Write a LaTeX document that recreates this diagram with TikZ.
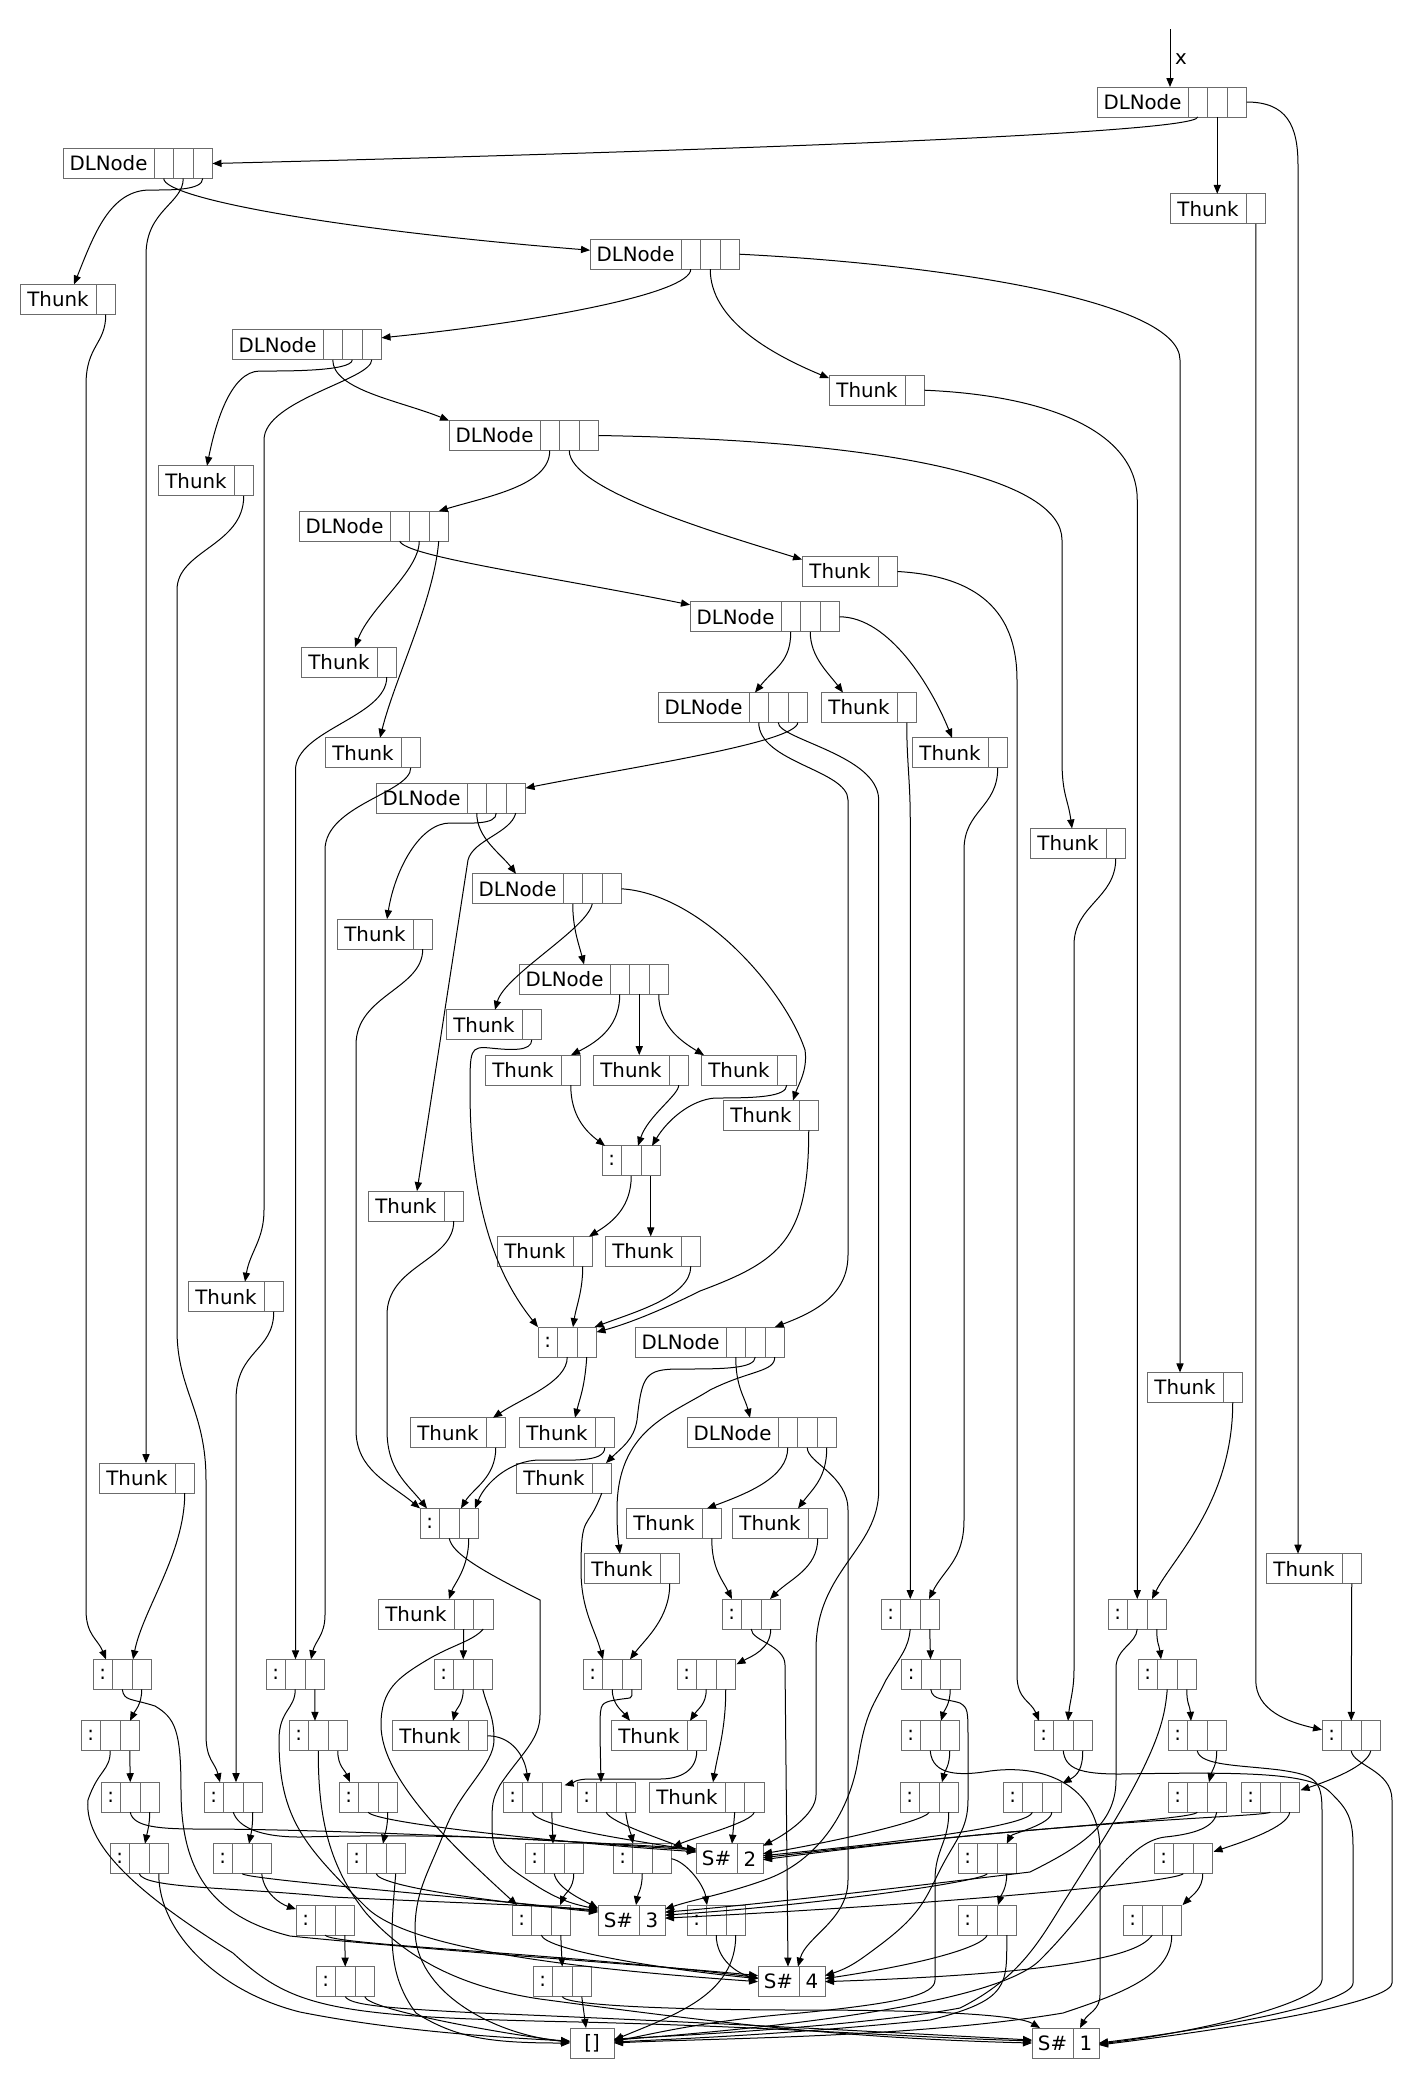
\documentclass[tikz,border=0pt]{standalone}
\usepackage{fontspec}
\newfontfamily\dvs{DejaVu Sans}
\usetikzlibrary{calc,arrows.meta}
\tikzset{
  box/.style={draw=black!58, line width=0.5pt, inner sep=0pt, outer sep=0pt, minimum height=15pt, font=\dvs\fontsize{9.9}{11}\selectfont, text=black},
  lab/.style={box, anchor=north west},
  cell/.style={box, anchor=west, minimum width=9.75pt},
  e/.style={draw=black, line width=0.5pt, -{Triangle[length=4.5pt,width=3.6pt]}},
}
\newcommand\mkrec[5]{\node[lab, minimum width=#5] (#1) at (#2,#3) {#4};}
\newcommand\mkcells[2]{%
  \node[cell] (#1-1) at (#1.east) {};%
  \ifnum#2>1 \node[cell] (#1-2) at (#1-1.east) {};\fi
  \ifnum#2>2 \node[cell] (#1-3) at (#1-2.east) {};\fi}
\newcommand\dlrec[3]{\mkrec{#1}{#2}{#3}{DLNode}{45.5pt}\mkcells{#1}{3}}
\newcommand\threc[3]{\mkrec{#1}{#2}{#3}{Thunk}{38pt}\mkcells{#1}{1}}
\newcommand\threcb[3]{\mkrec{#1}{#2}{#3}{Thunk}{38pt}\mkcells{#1}{2}}
\newcommand\consrec[3]{\mkrec{#1}{#2}{#3}{:}{9.75pt}\mkcells{#1}{2}}
\newcommand\shrec[4]{\mkrec{#1}{#2}{#3}{S\#}{20.5pt}\node[cell, minimum width=13pt] (#1-1) at (#1.east) {#4};}
\begin{document}
\begin{tikzpicture}[x=0.5pt,y=-0.5pt]
\fill[white] (0,0) rectangle (1413,2090);
\useasboundingbox (0,0) rectangle (1413,2090);
% ---------- nodes ----------
\dlrec{DL0}{1097}{87}
\dlrec{DL1}{63}{148.5}
\threc{TA}{1170}{193.8}
\dlrec{DL2}{590}{239.2}
\threc{TB}{20}{284.5}
\dlrec{DL3}{232}{329.8}
\threc{TC}{829}{375.2}
\dlrec{DL4}{449}{420.5}
\threc{TD}{158}{465.8}
\dlrec{DL5}{299}{511.1}
\threc{TE}{802}{556.5}
\dlrec{DL6}{690}{601.8}
\threc{TF}{301}{647.1}
\dlrec{DL7}{658}{692.5}
\threc{TG}{821}{692.5}
\threc{TH}{325}{737.8}
\threc{TI}{912}{737.8}
\dlrec{DL8}{376}{783.1}
\threc{TJ}{1030}{828.5}
\dlrec{DL9}{472}{873.8}
\threc{TK}{337}{919.1}
\dlrec{DL10}{519}{964.4}
\threc{TL}{446}{1009.8}
\threc{TM}{485}{1055.1}
\threc{TN}{593}{1055.1}
\threc{TO}{701}{1055.1}
\threc{TP}{723}{1100.4}
\consrec{C1}{602}{1145.8}
\threc{TQ}{368}{1191.1}
\threc{TR}{497}{1236.4}
\threc{TS}{605}{1236.4}
\threc{TT}{188}{1281.7}
\consrec{C2}{538}{1327.1}
\dlrec{DL11}{635}{1327.1}
\threc{TU}{1147}{1372.4}
\threc{TV}{410}{1417.7}
\threc{TW}{519}{1417.7}
\dlrec{DL12}{687}{1417.7}
\threc{TX}{99}{1463.1}
\threc{TY}{516}{1463.1}
\consrec{C3}{420}{1508.4}
\threc{TZ}{626}{1508.4}
\threc{TAA}{732}{1508.4}
\threc{TAB}{584}{1553.7}
\threc{TAC}{1266}{1553.7}
\threcb{TAD}{378}{1599}
\consrec{C4}{722}{1599}
\consrec{C5}{881}{1599}
\consrec{C6}{1108}{1599}
% bottom rows
\consrec{K1}{93}{1659.3}
\consrec{K2}{266}{1659.3}
\consrec{K3}{434}{1659.3}
\consrec{K4}{583}{1659.3}
\consrec{K5}{677}{1659.3}
\consrec{K8}{901.5}{1659.3}
\consrec{K9}{1138}{1659.3}
\consrec{K6}{81}{1720.8}
\consrec{K7}{289}{1720.8}
\threc{TAE}{392}{1720.8}
\threc{TAF}{611}{1720.8}
\consrec{K10}{901}{1720.8}
\consrec{K11}{1034}{1720.8}
\consrec{K12}{1168}{1720.8}
\consrec{K13}{1322}{1720.8}
\consrec{K14}{101}{1782.2}
\consrec{K15}{204}{1782.2}
\consrec{K16}{339}{1782.2}
\consrec{K17}{503}{1782.2}
\consrec{K18}{577}{1782.2}
\threcb{TAG}{649}{1782.2}
\consrec{K29}{900}{1782.2}
\consrec{K30}{1003}{1782.2}
\consrec{K31}{1168}{1782.2}
\consrec{K32}{1241}{1782.2}
\consrec{K19}{110}{1843.7}
\consrec{K20}{213}{1843.7}
\consrec{K21}{347}{1843.7}
\consrec{K22}{525}{1843.7}
\consrec{K23}{613}{1843.7}
\shrec{S2}{696}{1843.7}{2}
\consrec{K33}{958}{1843.7}
\consrec{K34}{1154}{1843.7}
\consrec{K24}{296}{1905.1}
\consrec{K25}{512}{1905.1}
\shrec{S3}{598}{1905.1}{3}
\consrec{K26}{687}{1905.1}
\consrec{K35}{958}{1905.1}
\consrec{K36}{1123}{1905.1}
\consrec{K27}{316}{1966.6}
\consrec{K28}{533}{1966.6}
\shrec{S4}{758}{1966.6}{4}
\mkrec{Nil}{570}{2028}{[]}{22pt}
\shrec{S1}{1032}{2028}{1}
% ---------- edges ----------
\coordinate (xs) at (1170,29);
\node[font=\dvs\fontsize{9.9}{11}\selectfont] (xl) at (1181,59) {x};
\draw[e] (xs) -- ($(DL0.north west)+(73,0)$);
\draw[e] (DL0-1.south) .. controls +(0,18) and +(400,-10) .. (DL1-3.east);
\draw[e] (DL0-2.south) -- ($(TA.north west)+(47.25,0)$);
\draw[e] (DL0-3.east) .. controls +(40,0) and +(0,-40) .. (1298,165) -- ($(TAC.north west)+(32,0)$);
\draw[e] (TA-1.south) -- (1255.75,1680) .. controls +(0,30) and +(-35,-8) .. ($(K13.north west)+(0,9)$);
\draw[e] (TAC-1.south) -- (K13-1.north);
\draw[e] (DL1-1.south) .. controls +(0,20) and +(-250,-20) .. ($(DL2.north west)+(0,11)$);
\draw[e] (DL1-2.south) .. controls +(0,25) and +(0,-45) .. (146,255) -- ($(TX.north west)+(47,0)$);
\draw[e] (DL1-3.south) .. controls +(0,12) and +(20,0) .. (150,190) .. controls +(-40,0) and +(20,-50) .. ($(TB.north west)+(54,0)$);
\draw[e] (TB-1.south) .. controls +(0,30) and +(0,-40) .. (86,385) -- (86,1610) .. controls +(0,25) and +(-8,-20) .. ($(K1.north west)+(13,0)$);
\draw[e] (TX-1.south) .. controls +(0,60) and +(10,-50) .. ($(K1.north west)+(40,0)$);
\draw[e] (DL2-1.south) .. controls +(0,25) and +(150,-15) .. ($(DL3-3.north east)+(0,8)$);
\draw[e] (DL2-2.south) .. controls +(0,50) and +(-60,-25) .. ($(TC.north west)+(0,3)$);
\draw[e] (DL2-3.east) .. controls +(200,10) and +(0,-60) .. (1180,360) -- ($(TU.north west)+(33,0)$);
\draw[e] (TC-1.east) .. controls +(120,5) and +(0,-70) .. (1137.25,500) -- (C6-1.north);
\draw[e] (TU-1.south) .. controls +(0,100) and +(20,-40) .. ($(C6.north west)+(44,0)$);
\draw[e] (DL3-1.south) .. controls +(0,30) and +(-50,-20) .. (DL4.north west);
\draw[e] (DL3-2.south) .. controls +(0,12) and +(20,0) .. (260,371) .. controls +(-30,0) and +(8,-40) .. ($(TD.north west)+(49,0)$);
\draw[e] (DL3-3.south) .. controls +(0,20) and +(0,-40) .. (264,440) -- (264,1210) .. controls +(0,30) and +(5,-30) .. ($(TT.north west)+(57,0)$);
\draw[e] (TD-1.south) .. controls +(0,50) and +(0,-40) .. (177,590) -- (177,1330) .. controls +(0,60) and +(0,-70) .. (206,1480) -- (206,1735) .. controls +(0,25) and +(-5,-20) .. ($(K15.north west)+(16,0)$);
\draw[e] (TT-1.south) .. controls +(0,40) and +(0,-50) .. (236,1400) -- ($(K15.north west)+(32,0)$);
\draw[e] (DL4-1.south) .. controls +(0,35) and +(50,-15) .. (DL5-3.north);
\draw[e] (DL4-2.south) .. controls +(0,40) and +(-80,-25) .. ($(TE.north west)+(0,3)$);
\draw[e] (DL4-3.east) .. controls +(300,5) and +(0,-60) .. (1062,540) -- (1062,760) .. controls +(0,35) and +(-4,-30) .. ($(TJ.north west)+(42,0)$);
\draw[e] (TE-1.east) .. controls +(90,5) and +(0,-60) .. (1017,680) -- (1017,1675) .. controls +(0,25) and +(-8,-20) .. ($(K11.north west)+(5,0)$);
\draw[e] (TJ-1.south) .. controls +(0,40) and +(0,-40) .. (1074,945) -- (1074,1670) .. controls +(0,20) and +(2,-20) .. ($(K11.north west)+(34,0)$);
\draw[e] (DL5-1.south) .. controls +(5,15) and +(-150,-30) .. ($(DL6.north west)+(0,3)$);
\draw[e] (DL5-2.south) .. controls +(0,30) and +(15,-40) .. ($(TF.north west)+(54,0)$);
\draw[e] (DL5-3.south) .. controls +(-5,60) and +(15,-60) .. ($(TH.north west)+(55,0)$);
\draw[e] (TF-1.south) .. controls +(0,40) and +(0,-40) .. (295.5,770) -- ($(K2.north west)+(29.5,0)$);
\draw[e] (TH-1.south) .. controls +(0,25) and +(0,-45) .. (325,850) -- (325,1615) .. controls +(0,20) and +(4,-18) .. ($(K2.north west)+(45,0)$);
\draw[e] (DL6-1.south) .. controls +(0,30) and +(20,-25) .. ($(DL7.north west)+(97,0)$);
\draw[e] (DL6-2.south) .. controls +(0,25) and +(-15,-20) .. ($(TG.north west)+(22,0)$);
\draw[e] (DL6-3.east) .. controls +(50,0) and +(-20,-50) .. ($(TI.north west)+(40,0)$);
\draw[e] (TG-1.south) .. controls +(0,40) and +(0,-40) .. (910.25,820) -- (C5-1.north);
\draw[e] (TI-1.south) .. controls +(0,40) and +(0,-40) .. (964,850) -- (964,1520) .. controls +(0,40) and +(15,-30) .. ($(C5.north west)+(48,0)$);
\draw[e] (DL7-1.south) .. controls +(0,40) and +(0,-30) .. (848,800) -- (848,1255) .. controls +(0,40) and +(40,-15) .. (DL11-3.north);
\draw[e] (DL7-2.south) .. controls +(0,17) and +(0,-45) .. (878.7,800) -- (878.7,1490) .. controls +(0,60) and +(0,-80) .. (816,1650) -- (816,1795) .. controls +(0,20) and +(20,-10) .. ($(S2-1.north east)+(0,2)$);
\draw[e] (DL7-3.south) .. controls +(0,20) and +(100,-20) .. ($(DL8-3.north east)+(0,5)$);
\draw[e] (DL8-1.south) .. controls +(0,25) and +(-15,-20) .. ($(DL9.north west)+(44,0)$);
\draw[e] (DL8-2.south) .. controls +(0,12) and +(20,0) .. (450,823) .. controls +(-30,0) and +(8,-50) .. ($(TK.north west)+(50,0)$);
\draw[e] (DL8-3.south) .. controls +(-5,20) and +(5,-20) .. (468,860) -- ($(TQ.north west)+(49,0)$);
\draw[e] (DL9-1.south) .. controls +(0,25) and +(-5,-20) .. ($(DL10.north west)+(65,0)$);
\draw[e] (DL9-2.south) .. controls +(-5,25) and +(10,-35) .. ($(TL.north west)+(49,0)$);
\draw[e] (DL9-3.east) .. controls +(80,5) and +(-20,-60) .. (805,1050) .. controls +(3,20) and +(5,-15) .. ($(TP.north west)+(70,0)$);
\draw[e] (DL10-1.south) .. controls +(0,30) and +(30,-15) .. ($(TM.north west)+(86,0)$);
\draw[e] (DL10-2.south) -- ($(TN.north west)+(46.25,0)$);
\draw[e] (DL10-3.south) .. controls +(0,30) and +(-25,-15) .. ($(TO.north west)+(3,0)$);
\draw[e] (TL-1.south) .. controls +(0,12) and +(20,2) .. (490,1048) .. controls +(-20,-2) and +(0,-40) .. (470,1090) .. controls +(0,120) and +(-40,-50) .. (C2.north west);
\draw[e] (TM-1.south) .. controls +(0,30) and +(-20,-15) .. ($(C1.north west)+(3,0)$);
\draw[e] (TN-1.south) .. controls +(0,10) and +(10,-30) .. ($(C1.north west)+(36,0)$);
\draw[e] (TO-1.south) .. controls +(0,12) and +(40,0) .. (715,1098) .. controls +(-25,2) and +(15,-25) .. ($(C1.north west)+(50,0)$);
\draw[e] (TP-1.south) .. controls +(0,110) and +(80,-30) .. (700,1291) .. controls +(-40,20) and +(30,-8) .. ($(C2-2.north east)+(0,5)$);
\draw[e] (TS-1.south) .. controls +(0,30) and +(40,-15) .. ($(C2-2.north east)+(-2,0)$);
\draw[e] (C1-1.south) .. controls +(0,30) and +(25,-15) .. ($(TR.north west)+(92,0)$);
\draw[e] (C1-2.south) -- ($(TS.north west)+(45.75,0)$);
\draw[e] (TR-1.south) .. controls +(0,25) and +(3,-20) .. ($(C2.north west)+(35,0)$);
\draw[e] (C2-1.south) .. controls +(0,25) and +(30,-20) .. ($(TV.north west)+(83,0)$);
\draw[e] (C2-2.south) .. controls +(-2,30) and +(5,-20) .. ($(TW.north west)+(56,0)$);
\draw[e] (DL11-1.south) .. controls +(0,30) and +(-5,-20) .. ($(DL12.north west)+(63,0)$);
\draw[e] (DL11-2.south) .. controls +(0,12) and +(40,0) .. (680,1369) .. controls +(-35,0) and +(5,-45) .. (637,1420) .. controls +(-3,20) and +(15,-15) .. ($(TY.north west)+(90,0)$);
\draw[e] (DL11-3.south) .. controls +(0,15) and +(40,-20) .. (710,1390) .. controls +(-40,25) and +(0,-80) .. (617,1510) .. controls +(0,20) and +(-2,-15) .. ($(TAB.north west)+(36,0)$);
\draw[e] (DL12-1.south) .. controls +(0,30) and +(40,-15) .. ($(TZ.north west)+(81,0)$);
\draw[e] (DL12-2.south) .. controls +(0,15) and +(0,-35) .. (848,1510) -- (848,1880) .. controls +(0,40) and +(8,-30) .. ($(S4.north west)+(40,0)$);
\draw[e] (DL12-3.south) .. controls +(0,30) and +(15,-20) .. ($(TAA.north west)+(66,0)$);
\draw[e] (TV-1.south) .. controls +(0,30) and +(12,-20) .. ($(C3.north west)+(41,0)$);
\draw[e] (TW-1.south) .. controls +(0,15) and +(30,0) .. (540,1460) .. controls +(-30,0) and +(10,-25) .. ($(C3.north west)+(55,0)$);
\draw[e] (TK-1.south) .. controls +(0,40) and +(0,-50) .. (356,1045) -- (356,1430) .. controls +(0,40) and +(-30,-25) .. (C3.north west);
\draw[e] (TQ-1.south) .. controls +(0,40) and +(0,-50) .. (387,1315) -- (387,1430) .. controls +(0,40) and +(-20,-25) .. ($(C3.north west)+(7,0)$);
\draw[e] (TZ-1.south) .. controls +(0,30) and +(-10,-20) .. ($(C4.north west)+(10,0)$);
\draw[e] (TAA-1.south) .. controls +(0,30) and +(20,-20) .. ($(C4.north west)+(48,0)$);
\draw[e] (TY-1.south) .. controls +(-15,40) and +(0,-60) .. (581,1570) .. controls +(0,40) and +(-8,-30) .. ($(K4.north west)+(20,0)$);
\draw[e] (TAB-1.south) .. controls +(0,35) and +(15,-20) .. ($(K4.north west)+(47,0)$);
\draw[e] (TAD-1.south) -- (K3-1.north);
\draw[e] (TAD-2.south) .. controls +(-10,12) and +(25,-15) .. (427,1660) .. controls +(-30,18) and +(0,-35) .. (381,1725) .. controls +(0,55) and +(-60,-55) .. ($(K25.north west)+(5,0)$);
\draw[e] (C3-1.south) .. controls +(3,15) and +(-60,-30) .. (540,1600) -- (540,1715) .. controls +(0,25) and +(20,-30) .. (500,1785) .. controls +(-8,15) and +(0,-20) .. (492,1825) .. controls +(0,30) and +(-40,-25) .. (540,1888) .. controls +(20,12) and +(-25,-5) .. ($(S3.west)+(0,-11)$);
\draw[e] (C3-2.south) .. controls +(0,30) and +(5,-15) .. ($(TAD.north west)+(71,0)$);
\draw[e] (K3-1.south) .. controls +(0,15) and +(3,-12) .. ($(TAE.north west)+(61,0)$);
\draw[e] (K3-2.south) .. controls +(5,20) and +(0,-25) .. (494,1740) .. controls +(0,25) and +(15,-40) .. (445,1830) .. controls +(-15,40) and +(0,-40) .. (415,1930) .. controls +(0,60) and +(-80,-8) .. ($(Nil.west)+(0,-1)$);
\draw[e] (TAE-1.east) .. controls +(25,0) and +(-3,-25) .. ($(K17.north west)+(25,0)$);
\draw[e] (TAF-1.south) .. controls +(0,20) and +(20,0) .. (660,1779) -- (590,1779) .. controls +(-15,0) and +(8,-2) .. ($(K17-2.north east)+(3,3)$);
\draw[e] (K4-1.south) .. controls +(0,15) and +(-8,-10) .. ($(TAF.north west)+(19,0)$);
\draw[e] (K4-2.south) .. controls +(0,12) and +(25,-5) .. (610,1701) .. controls +(-10,3) and +(0,-30) .. (600,1735) -- ($(K18.north west)+(24,0)$);
\draw[e] (K5-1.south) .. controls +(0,15) and +(8,-12) .. ($(TAF.north west)+(79,0)$);
\draw[e] (K5-2.south) .. controls +(0,40) and +(5,-30) .. ($(TAG.north west)+(64,0)$);
\draw[e] (C4-1.south) .. controls +(0,12) and +(0,-20) .. (785,1665) -- ($(S4.north west)+(30,0)$);
\draw[e] (C4-2.south) .. controls +(0,20) and +(15,-8) .. ($(K5-2.north east)+(1,5)$);
\draw[e] (C5-1.south) .. controls +(-2,20) and +(15,-25) .. (886,1680) .. controls +(-12,25) and +(8,-50) .. (858,1760) .. controls +(-8,50) and +(50,-20) .. (770,1878) .. controls +(-40,15) and +(30,-10) .. ($(S3-1.north east)+(0,4)$);
\draw[e] (C5-2.south) -- ($(K8.north west)+(29,0)$);
\draw[e] (C6-1.south) .. controls +(-1,15) and +(0,-20) .. (1116,1668) -- (1116,1780) .. controls +(0,45) and +(50,-25) .. (1030,1872) .. controls +(-100,12) and +(100,-8) .. ($(S3-1.east)+(0,-8)$);
\draw[e] (C6-2.south) .. controls +(0,15) and +(-2,-15) .. ($(K9.north west)+(23,0)$);
\draw[e] (K8-1.south) .. controls +(2,12) and +(-15,-5) .. (960,1703) .. controls +(8,5) and +(0,-30) .. (968,1740) -- (968,1800) .. controls +(0,30) and +(15,-30) .. (940,1870) .. controls +(-15,30) and +(40,-30) .. (880,1945) .. controls +(-20,15) and +(25,-8) .. ($(S4-1.east)+(0,-6)$);
\draw[e] (K8-2.south) .. controls +(0,15) and +(3,-10) .. ($(K10.north west)+(40,0)$);
\draw[e] (K9-1.south) .. controls +(-2,25) and +(20,-40) .. (1140,1775) .. controls +(-20,40) and +(25,-40) .. (1065,1900) .. controls +(-25,40) and +(60,-30) .. (960,2008) .. controls +(-80,15) and +(120,-6) .. ($(Nil.east)+(0,-4)$);
\draw[e] (K9-2.south) .. controls +(0,15) and +(-1,-15) .. ($(K12.north west)+(23,0)$);
\draw[e] (K10-1.south) .. controls +(2,25) and +(-30,5) .. (990,1771) .. controls +(60,-8) and +(0,-60) .. (1100,1850) -- (1100,1995) .. controls +(0,15) and +(8,-15) .. ($(S1.north west)+(48,0)$);
\draw[e] (K10-2.south) .. controls +(0,15) and +(3,-12) .. ($(K29.north west)+(42,0)$);
\draw[e] (K29-1.south) .. controls +(-5,10) and +(60,-10) .. ($(S2-1.east)+(0,-5)$);
\draw[e] (K29-2.south) .. controls +(0,30) and +(0,-30) .. (935,1880) -- (935,1980) .. controls +(0,15) and +(100,-10) .. (800,2013) .. controls +(-100,8) and +(30,-5) .. ($(Nil.east)+(0,-2)$);
\draw[e] (K11-1.south) .. controls +(2,18) and +(-40,0) .. (1120,1774) .. controls +(120,-2) and +(-20,-20) .. (1330,1792) .. controls +(15,15) and +(0,-30) .. (1353,1845) -- (1353,1983) .. controls +(0,20) and +(120,-15) .. (S1-1.east);
\draw[e] (K11-2.south) .. controls +(0,18) and +(15,-8) .. ($(K30-2.north east)+(1,1)$);
\draw[e] (K30-1.south) .. controls +(-3,15) and +(120,-12) .. ($(S2-1.east)+(0,-3)$);
\draw[e] (K30-2.south) .. controls +(0,12) and +(5,-10) .. (K33-2.north);
\draw[e] (K33-1.south) .. controls +(-5,8) and +(150,-10) .. ($(S3-1.east)+(0,-5)$);
\draw[e] (K33-2.south) .. controls +(0,15) and +(3,-10) .. ($(K35.north west)+(40,0)$);
\draw[e] (K35-1.south) .. controls +(-5,12) and +(100,-15) .. ($(S4-1.east)+(0,-3)$);
\draw[e] (K35-2.south) .. controls +(0,50) and +(80,-20) .. (930,2020) .. controls +(-150,15) and +(60,-3) .. ($(Nil.east)+(0,-1)$);
\draw[e] (K12-1.south) .. controls +(3,15) and +(-40,-5) .. (1280,1770) .. controls +(35,5) and +(0,-30) .. (1322,1810) -- (1322,1980) .. controls +(0,20) and +(120,-15) .. ($(S1-1.east)+(0,1)$);
\draw[e] (K12-2.south) .. controls +(0,15) and +(3,-12) .. ($(K31.north west)+(41,0)$);
\draw[e] (K31-1.south) .. controls +(-5,8) and +(250,-30) .. ($(S2-1.east)+(0,-1)$);
\draw[e] (K31-2.south) .. controls +(-2,15) and +(30,-3) .. (1165,1837) .. controls +(-40,5) and +(60,-60) .. (1040,1960) .. controls +(-40,40) and +(200,-15) .. ($(Nil.east)+(0,-3)$);
\draw[e] (K13-1.south) .. controls +(2,15) and +(0,-30) .. (1392,1800) -- (1392,1983) .. controls +(0,15) and +(200,-25) .. ($(S1-1.east)+(0,2)$);
\draw[e] (K13-2.south) .. controls +(-3,15) and +(30,-10) .. ($(K32-2.north east)+(1,8)$);
\draw[e] (K32-1.south) .. controls +(-8,5) and +(300,-40) .. ($(S2-1.east)+(0,1)$);
\draw[e] (K32-2.south) .. controls +(-2,15) and +(30,-10) .. ($(K34-2.north east)+(1,8)$);
\draw[e] (K34-1.south) .. controls +(-8,8) and +(300,-15) .. ($(S3-1.east)+(0,-2)$);
\draw[e] (K34-2.south) .. controls +(0,15) and +(10,-10) .. ($(K36-2.north east)+(1,0)$);
\draw[e] (K36-1.south) .. controls +(-8,10) and +(300,-10) .. (S4-1.east);
\draw[e] (K36-2.south) .. controls +(0,40) and +(60,-20) .. (1063,2013) .. controls +(-150,25) and +(100,-5) .. (Nil.east);
\draw[e] (K28-1.south) .. controls +(3,10) and +(-100,0) .. (800,2010) .. controls +(150,0) and +(-20,-12) .. ($(S1.north west)+(8,0)$);
\draw[e] (K28-2.south) -- ($(Nil.north west)+(16,0)$);
\draw[e] (K25-1.south) .. controls +(5,15) and +(-100,-10) .. ($(S4.west)+(0,-3)$);
\draw[e] (K25-2.south) -- (K28-1.north);
\draw[e] (K22-1.south) .. controls +(3,15) and +(-15,-8) .. ($(S3.north west)+(0,3)$);
\draw[e] (K22-2.south) .. controls +(0,15) and +(5,-12) .. ($(K25.north west)+(48,0)$);
\draw[e] (K23-1.south) .. controls +(0,15) and +(2,-12) .. ($(S3.north west)+(38,0)$);
\draw[e] (K23-2.east) .. controls +(15,3) and +(-3,-20) .. ($(K26.north west)+(20,0)$);
\draw[e] (K26-1.south) .. controls +(0,25) and +(-20,-5) .. ($(S4.west)+(0,-3)$);
\draw[e] (K26-2.south) .. controls +(0,60) and +(60,-25) .. ($(Nil.east)+(0,-3)$);
\draw[e] (K17-1.south) .. controls +(5,15) and +(-60,-10) .. ($(S2.west)+(0,-8)$);
\draw[e] (K17-2.south) -- ($(K22.north west)+(28,0)$);
\draw[e] (K18-1.south) .. controls +(3,10) and +(-30,-12) .. ($(S2.west)+(0,-6)$);
\draw[e] (K18-2.south) .. controls +(2,15) and +(-2,-10) .. ($(K23.north west)+(20,0)$);
\draw[e] (TAG-1.south) -- ($(S2.north west)+(36,0)$);
\draw[e] (TAG-2.south) .. controls +(-3,10) and +(30,-12) .. ($(K23-2.north east)+(1,3)$);
\draw[e] (K14-1.south) .. controls +(3,15) and +(-40,0) .. (200,1829) .. controls +(150,0) and +(-80,-5) .. ($(S2.west)+(0,-10)$);
\draw[e] (K14-2.south) .. controls +(0,12) and +(2,-10) .. ($(K19.north west)+(35,0)$);
\draw[e] (K19-1.south) .. controls +(5,15) and +(-100,-10) .. (333,1897) .. controls +(100,5) and +(-60,-5) .. ($(S3.west)+(0,-10)$);
\draw[e] (K19-2.south) .. controls +(0,60) and +(-80,-20) .. (300,2012) .. controls +(100,20) and +(-60,-3) .. ($(Nil.west)+(0,-2)$);
\draw[e] (K1-1.south) .. controls +(2,12) and +(-25,-8) .. (155,1706) .. controls +(20,12) and +(0,-60) .. (181,1790) .. controls +(0,80) and +(-80,-20) .. (290,1936) .. controls +(150,15) and +(-100,-10) .. ($(S4.west)+(0,-6)$);
\draw[e] (K1-2.south) .. controls +(0,15) and +(5,-10) .. ($(K6.north west)+(49,0)$);
\draw[e] (K6-1.south) .. controls +(0,20) and +(10,-30) .. (88,1800) .. controls +(-5,50) and +(-80,-50) .. (233,1953) .. controls +(60,55) and +(-250,-5) .. (580,2022) .. controls +(200,5) and +(-150,-5) .. ($(S1.west)+(0,-2)$);
\draw[e] (K6-2.south) -- (K14-1.north);
\draw[e] (K2-1.south) .. controls +(0,20) and +(0,-30) .. (279,1740) .. controls +(0,80) and +(-60,-60) .. (366,1907) .. controls +(40,40) and +(-200,-14) .. (S4.west);
\draw[e] (K2-2.south) -- ($(K7.north west)+(26,0)$);
\draw[e] (K7-1.south) .. controls +(0,60) and +(-40,-50) .. (366,1913) .. controls +(40,45) and +(-80,-12) .. (540,1999) .. controls +(150,20) and +(-200,-5) .. (S1.west);
\draw[e] (K7-2.south) .. controls +(0,15) and +(-5,-12) .. ($(K16.north west)+(11,0)$);
\draw[e] (K16-1.south) .. controls +(5,10) and +(-150,-10) .. ($(S2.west)+(0,-7)$);
\draw[e] (K16-2.south) .. controls +(0,15) and +(2,-10) .. ($(K21.north west)+(36,0)$);
\draw[e] (K21-1.south) .. controls +(3,12) and +(-120,-12) .. ($(S3.west)+(0,-8)$);
\draw[e] (K21-2.south) .. controls +(-5,60) and +(-30,-40) .. (416,2013) .. controls +(40,25) and +(-80,0) .. (Nil.west);
\draw[e] (K15-1.south) .. controls +(5,15) and +(-40,0) .. (300,1837) .. controls +(200,-5) and +(-100,-5) .. ($(S2.west)+(0,-9)$);
\draw[e] (K15-2.south) .. controls +(0,15) and +(2,-10) .. ($(K20.north west)+(36,0)$);
\draw[e] (K20-1.south) .. controls +(5,5) and +(-200,-20) .. ($(S3.west)+(0,-9)$);
\draw[e] (K20-2.south) .. controls +(2,20) and +(-15,-5) .. ($(K24.north west)+(0,4)$);
\draw[e] (K24-1.south) .. controls +(5,10) and +(-200,-25) .. ($(S4.west)+(0,-4)$);
\draw[e] (K24-2.south) -- (K27-1.north);
\draw[e] (K27-1.south) .. controls +(5,8) and +(-100,-5) .. (480,2013) .. controls +(200,8) and +(-150,-8) .. ($(S1.west)+(0,-3)$);
\draw[e] (K27-2.south) .. controls +(2,12) and +(-80,-10) .. ($(Nil.west)+(0,-1)$);
\end{tikzpicture}
\end{document}
